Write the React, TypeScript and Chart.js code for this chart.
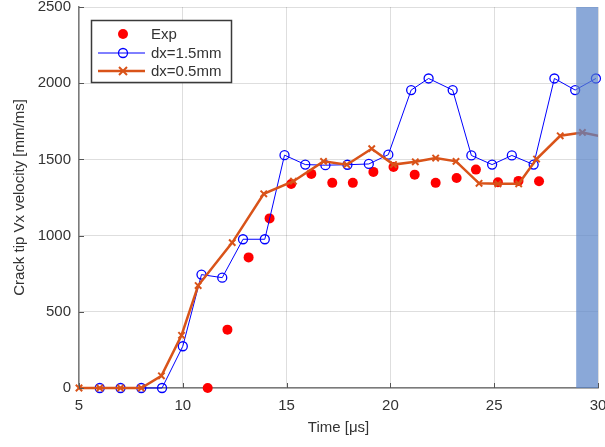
import React, { useEffect, useRef } from 'react';
import { Chart, registerables } from 'chart.js';

Chart.register(...registerables);

// Experimental measurements
const expTime = [11.2, 12.15, 13.17, 14.18, 15.22, 16.19, 17.2, 18.19, 19.18, 20.15, 21.17, 22.18, 23.19, 24.12, 25.18, 26.17, 27.16];
const expVel = [0, 383, 857, 1113, 1339, 1405, 1346, 1346, 1418, 1450, 1400, 1346, 1378, 1433, 1350, 1359, 1357];

// Simulation dx = 1.5 mm
const coarseTime = [6, 7, 8, 9, 10, 10.9, 11.9, 12.9, 13.95, 14.9, 15.9, 16.87, 17.93, 18.96, 19.9, 21.0, 21.84, 23.0, 23.9, 24.9, 25.85, 26.9, 27.9, 28.9, 29.9];
const coarseVel = [0, 0, 0, 0, 274, 744, 724, 976, 976, 1528, 1466, 1462, 1465, 1470, 1531, 1955, 2031, 1955, 1526, 1466, 1526, 1466, 2031, 1955, 2031];

// Simulation dx = 0.5 mm
const fineTime = [5, 6, 7, 8, 8.97, 9.94, 10.74, 12.38, 13.9, 15.33, 16.78, 17.9, 19.1, 20.15, 21.2, 22.18, 23.16, 24.27, 25.18, 26.18, 27.04, 28.18, 29.25, 30.5];
const fineVel = [0, 0, 0, 0, 80, 346, 672, 954, 1274, 1357, 1487, 1465, 1570, 1466, 1484, 1509, 1487, 1343, 1340, 1340, 1502, 1655, 1677, 1640];

const xTicks = [5, 10, 15, 20, 25, 30];
const yTicks = [0, 500, 1000, 1500, 2000, 2500];
const bandRange = [28.95, 30];

const seriesNames = ['Exp', 'dx=1.5mm', 'dx=0.5mm'];
const xTitle = 'Time [\u03bcs]';
const yTitle = 'Crack tip Vx velocity [mm/ms]';

const FONT = "'Liberation Sans', Arial, Helvetica, sans-serif";
const TEXT = '#333333';
const RED = '#ff0000';
const BLUE = '#0000ff';
const ORANGE = '#d95319';

const toPts = (xs: number[], ys: number[]) => xs.map((x, i) => ({ x, y: ys[i] }));

const overlay = {
  id: 'overlay',
  afterDatasetsDraw(chart: any) {
    const { ctx, chartArea: a, scales } = chart;
    const x0 = scales.x.getPixelForValue(bandRange[0]);
    const x1 = scales.x.getPixelForValue(bandRange[1]);
    ctx.save();
    ctx.fillStyle = 'rgba(88,131,199,0.7)';
    ctx.fillRect(x0, a.top, x1 - x0, a.bottom - a.top);
    ctx.restore();
  },
  afterDraw(chart: any) {
    const { ctx, chartArea: a, scales } = chart;
    ctx.save();
    // inward tick marks
    ctx.strokeStyle = '#555';
    ctx.lineWidth = 1;
    ctx.beginPath();
    xTicks.forEach((t) => {
      const px = Math.round(scales.x.getPixelForValue(t)) + 0.5;
      ctx.moveTo(px, a.bottom);
      ctx.lineTo(px, a.bottom - 5);
    });
    yTicks.forEach((t) => {
      const py = Math.round(scales.y.getPixelForValue(t)) + 0.5;
      ctx.moveTo(a.left, py);
      ctx.lineTo(a.left + 5, py);
    });
    ctx.stroke();

    // legend
    const bx = 91.5, by = 20.5, bw = 140, bh = 62;
    ctx.fillStyle = '#ffffff';
    ctx.fillRect(bx, by, bw, bh);
    ctx.strokeStyle = '#3a3a3a';
    ctx.lineWidth = 1.5;
    ctx.strokeRect(bx, by, bw, bh);

    const mx = 123;
    const lx0 = 98, lx1 = 145;
    const tx = 151;
    const rows = [34, 53, 71];

    // Exp
    ctx.fillStyle = RED;
    ctx.beginPath();
    ctx.arc(mx, rows[0], 5, 0, Math.PI * 2);
    ctx.fill();

    // dx=1.5mm
    ctx.strokeStyle = BLUE;
    ctx.lineWidth = 1;
    ctx.beginPath();
    ctx.moveTo(lx0, rows[1]);
    ctx.lineTo(lx1, rows[1]);
    ctx.stroke();
    ctx.beginPath();
    ctx.arc(mx, rows[1], 4.5, 0, Math.PI * 2);
    ctx.lineWidth = 1.3;
    ctx.stroke();

    // dx=0.5mm
    ctx.strokeStyle = ORANGE;
    ctx.lineWidth = 2.5;
    ctx.beginPath();
    ctx.moveTo(lx0, rows[2]);
    ctx.lineTo(lx1, rows[2]);
    ctx.stroke();
    ctx.lineWidth = 2;
    const r = 4;
    ctx.beginPath();
    ctx.moveTo(mx - r, rows[2] - r);
    ctx.lineTo(mx + r, rows[2] + r);
    ctx.moveTo(mx + r, rows[2] - r);
    ctx.lineTo(mx - r, rows[2] + r);
    ctx.stroke();

    ctx.fillStyle = TEXT;
    ctx.font = `15px ${FONT}`;
    ctx.textBaseline = 'middle';
    ctx.textAlign = 'left';
    seriesNames.forEach((n, i) => ctx.fillText(n, tx, rows[i] + 1));
    ctx.restore();
  },
};

export default function App() {
  const ref = useRef<HTMLCanvasElement>(null);

  useEffect(() => {
    document.body.style.margin = '0';
    const canvas = ref.current;
    if (!canvas) return;
    const tickFont = { family: FONT, size: 15 };
    const chart = new Chart(canvas, {
      type: 'scatter',
      data: {
        datasets: [
          {
            label: seriesNames[0],
            data: toPts(expTime, expVel),
            showLine: false,
            pointRadius: 5,
            pointBackgroundColor: RED,
            pointBorderWidth: 0,
            pointBorderColor: RED,
            order: 3,
            clip: false as any,
          },
          {
            label: seriesNames[1],
            data: toPts(coarseTime, coarseVel),
            showLine: true,
            borderColor: BLUE,
            borderWidth: 1,
            pointStyle: 'circle',
            pointRadius: 4.5,
            pointBorderWidth: 1.3,
            pointBorderColor: BLUE,
            pointBackgroundColor: 'rgba(0,0,0,0)',
            order: 2,
            clip: false as any,
          },
          {
            label: seriesNames[2],
            data: toPts(fineTime, fineVel),
            showLine: true,
            borderColor: ORANGE,
            borderWidth: 2.5,
            pointStyle: 'crossRot',
            pointRadius: 4.5,
            pointBorderWidth: 2,
            pointBorderColor: ORANGE,
            pointBackgroundColor: ORANGE,
            order: 1,
            clip: { left: 10, top: 10, right: 0, bottom: 10 } as any,
          },
        ],
      },
      options: {
        responsive: false,
        animation: false,
        devicePixelRatio: 1,
        layout: { padding: 0 },
        plugins: { legend: { display: false }, tooltip: { enabled: false } },
        scales: {
          x: {
            type: 'linear',
            min: 5,
            max: 30,
            afterBuildTicks: (s: any) => {
              s.ticks = xTicks.map((v) => ({ value: v }));
            },
            afterFit: (s: any) => {
              s.height = 59;
              s.paddingLeft = 0;
              s.paddingRight = 7;
            },
            ticks: {
              font: tickFont,
              color: TEXT,
              padding: 9,
              maxRotation: 0,
              autoSkip: false,
              callback: (v: any) => String(v),
            },
            grid: { color: 'rgba(0,0,0,0.13)', drawTicks: false },
            border: { display: true, color: '#7a7a7a', width: 1.5 },
            title: {
              display: true,
              text: xTitle,
              font: tickFont,
              color: TEXT,
              padding: { top: 0, bottom: 10 },
            },
          },
          y: {
            type: 'linear',
            min: 0,
            max: 2500,
            afterBuildTicks: (s: any) => {
              s.ticks = yTicks.map((v) => ({ value: v }));
            },
            afterFit: (s: any) => {
              s.width = 79;
              s.paddingTop = 7;
              s.paddingBottom = 0;
            },
            ticks: {
              font: tickFont,
              color: TEXT,
              padding: 8,
              autoSkip: false,
              callback: (v: any) => String(v),
            },
            grid: { color: 'rgba(0,0,0,0.13)', drawTicks: false },
            border: { display: true, color: '#7a7a7a', width: 1.5 },
            title: {
              display: true,
              text: yTitle,
              font: tickFont,
              color: TEXT,
              padding: { top: 11, bottom: 0 },
            },
          },
        },
      },
      plugins: [overlay],
    } as any);
    return () => chart.destroy();
  }, []);

  return (
    <div style={{ width: 605, height: 447, position: 'relative' }}>
      <canvas ref={ref} width={605} height={447} style={{ display: 'block' }} />
    </div>
  );
}
